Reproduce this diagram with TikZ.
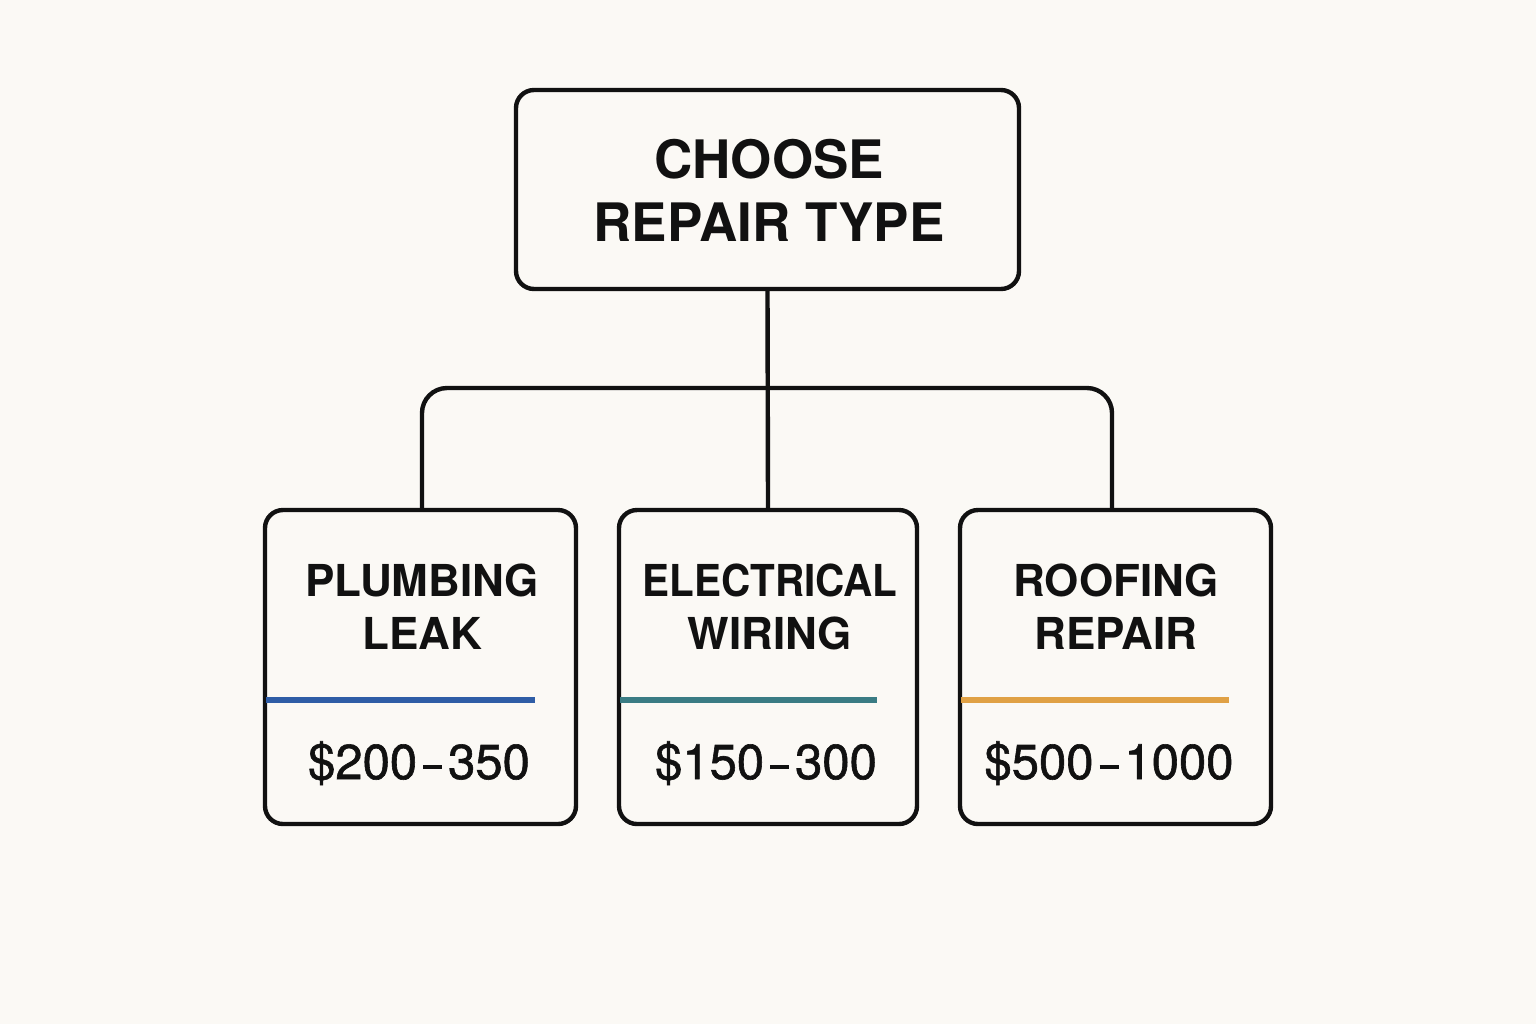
\documentclass[tikz,border=0pt]{standalone}
\usepackage{fontspec}
\setmainfont{TeX Gyre Heros}
\definecolor{bg}{HTML}{FBF9F5}
\definecolor{ink}{HTML}{111111}
\definecolor{cblue}{HTML}{2F5DA6}
\definecolor{cteal}{HTML}{3A7C84}
\definecolor{corange}{HTML}{E0A145}
\newcommand{\pdash}{\kern3pt\rule[5.2pt]{9.5pt}{2pt}\kern3pt}
\begin{document}
\begin{tikzpicture}[x=0.5pt,y=-0.5pt,
  box/.style={draw=ink, line width=2.2pt, rounded corners=9pt, fill=bg, inner sep=0pt},
  conn/.style={draw=ink, line width=2.2pt},
  toplabel/.style={font=\bfseries\fontsize{26.5}{31.5}\selectfont, align=center, text=ink},
  label/.style={font=\bfseries\fontsize{22}{26.5}\selectfont, align=center, text=ink},
  price/.style={font=\fontsize{24.5}{28}\selectfont\addfontfeature{FakeBold=1.2}, text=ink, anchor=base},
  bar/.style={line width=3pt}]
\fill[bg] (0,0) rectangle (1536,1024);
\useasboundingbox (0,0) rectangle (1536,1024);

\node[box, minimum width=251.5pt, minimum height=99.5pt] (top) at (767.5,189.5) {};
\node[toplabel] (toptext) at (769,190) {CHOOSE\\REPAIR TYPE};

\node[box, minimum width=155.5pt, minimum height=157pt] (left) at (420.5,667) {};
\node[box, minimum width=149pt, minimum height=157pt] (mid) at (768,667) {};
\node[box, minimum width=155.5pt, minimum height=157pt] (right) at (1115.5,667) {};

\coordinate (junction) at (768,388);
\draw[conn] (top.south) -- (mid.north);
\draw[conn, rounded corners=12.5pt] (left.north -| 422,0) -- (422,388) -- (1112,388) -- (right.north -| 1112,0);

\node[label] (l1) at (422,607) {PLUMBING\\LEAK};
\node[label] (l2) at (770,607) {\scalebox{0.92}[1]{ELECTRICAL}\\WIRING};
\node[label] (l3) at (1116,607) {ROOFING\\REPAIR};

\draw[bar, cblue] (266,700) -- (535,700);
\draw[bar, cteal] (620,700) -- (877,700);
\draw[bar, corange] (961,700) -- (1229,700);

\node[price] (p1) at (419,779) {\$200\pdash350};
\node[price] (p2) at (766,779) {\$150\pdash300};
\node[price] (p3) at (1109,779) {\$500\pdash1000};
\end{tikzpicture}
\end{document}
